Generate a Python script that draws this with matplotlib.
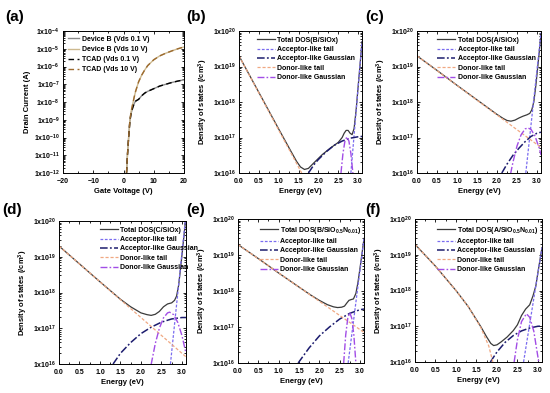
import numpy as np
import matplotlib
matplotlib.use("Agg")
import matplotlib.pyplot as plt
from matplotlib.ticker import FuncFormatter, LogLocator, MultipleLocator, NullFormatter

plt.rcParams['font.family'] = ['Liberation Sans', 'DejaVu Sans']
plt.rcParams['font.weight'] = 'bold'
plt.rcParams['mathtext.fontset'] = 'custom'
plt.rcParams['mathtext.rm'] = 'Liberation Sans:bold'
plt.rcParams['mathtext.bf'] = 'Liberation Sans:bold'
plt.rcParams['mathtext.it'] = 'Liberation Sans:bold'

# ---------------- Panel (a) data: transfer curves (log10 of drain current) -------------
vg_dev01 = [-20, -19.6, 0.8, 1.0, 1.3, 1.7, 2.1, 2.5, 3.0, 3.5, 4.0, 5, 6, 7, 8, 10, 12, 14, 16, 18, 20]
li_dev01 = [-11.5, -13, -13, -12.0, -11.0, -10.0, -9.1, -8.65, -8.35, -8.1, -7.95, -7.85, -7.65, -7.5, -7.4, -7.25, -7.1, -7.0, -6.9, -6.82, -6.75]
vg_dev10 = [-20, -19.6, 0.8, 1.0, 1.3, 1.7, 2.1, 2.5, 3.0, 3.5, 4.0, 5, 6, 7, 8, 10, 12, 14, 16, 18, 20]
li_dev10 = [-11.6, -13, -13, -12.0, -11.0, -10.0, -9.05, -8.55, -8.15, -7.75, -7.4, -6.86, -6.49, -6.2, -5.95, -5.62, -5.4, -5.25, -5.12, -5.0, -4.9]
vg_tcad01 = [0.8, 1.0, 1.3, 1.7, 2.1, 2.5, 3.0, 3.5, 4.0, 5, 6, 7, 8, 10, 12, 14, 16, 18, 20]
li_tcad01 = [-13, -12.0, -11.0, -10.0, -9.1, -8.65, -8.35, -8.1, -7.95, -7.85, -7.65, -7.5, -7.4, -7.25, -7.1, -7.0, -6.9, -6.82, -6.75]
vg_tcad10 = [0.8, 1.0, 1.3, 1.7, 2.1, 2.5, 3.0, 3.5, 4.0, 5, 6, 7, 8, 10, 12, 14, 16, 18, 20]
li_tcad10 = [-13, -12.0, -11.0, -10.0, -9.05, -8.55, -8.15, -7.75, -7.4, -6.86, -6.49, -6.2, -5.95, -5.62, -5.4, -5.25, -5.12, -5.0, -4.9]
labels_a = ['Device B (Vds 0.1 V)', 'Device B (Vds 10 V)', 'TCAD (Vds 0.1 V)', 'TCAD (Vds 10 V)']

# ---------------- DOS panels (log10 of density of states) ----------------
# (b) B/SiOx
b_tot_e = [0.0, 0.5, 1.0, 1.3, 1.45, 1.55, 1.65, 1.75, 1.9, 2.1, 2.3, 2.5, 2.6, 2.65, 2.7, 2.75, 2.8, 2.85, 2.9, 2.95, 3.0, 3.05, 3.1]
b_tot_v = [19.30, 18.27, 17.24, 16.63, 16.33, 16.17, 16.10, 16.13, 16.30, 16.52, 16.70, 16.86, 17.0, 17.12, 17.2, 17.2, 17.12, 17.08, 17.25, 17.75, 18.4, 19.04, 19.7]
b_at_e = [2.82, 3.1]
b_at_v = [16.0, 19.7]
b_ag_e = [1.75, 1.9, 2.0, 2.2, 2.4, 2.6, 2.8, 3.0, 3.1]
b_ag_v = [16.0, 16.25, 16.38, 16.6, 16.78, 16.9, 16.98, 17.02, 17.03]
b_dt_e = [0.0, 1.58]
b_dt_v = [19.3, 16.0]
b_dg_e = [2.57, 2.62, 2.67, 2.72, 2.77, 2.82, 2.87]
b_dg_v = [16.0, 16.55, 16.9, 17.02, 16.9, 16.55, 16.0]

# (c) A/SiOx
c_tot_e = [0.0, 0.5, 1.0, 1.5, 2.0, 2.15, 2.25, 2.35, 2.45, 2.55, 2.65, 2.75, 2.82, 2.87, 2.92, 2.97, 3.02, 3.06, 3.1]
c_tot_v = [19.30, 18.89, 18.47, 18.06, 17.65, 17.54, 17.48, 17.46, 17.49, 17.55, 17.60, 17.64, 17.68, 17.78, 18.0, 18.45, 19.0, 19.45, 19.9]
c_at_e = [2.72, 3.1]
c_at_v = [16.0, 19.95]
c_ag_e = [2.12, 2.25, 2.4, 2.55, 2.7, 2.85, 3.0, 3.1]
c_ag_v = [16.0, 16.25, 16.5, 16.7, 16.88, 17.03, 17.12, 17.15]
c_dt_e = [0.0, 3.1]
c_dt_v = [19.3, 16.72]
c_dg_e = [2.34, 2.4, 2.5, 2.6, 2.7, 2.77, 2.85, 2.95, 3.05, 3.1]
c_dg_v = [15.98, 16.31, 16.76, 17.07, 17.24, 17.27, 17.23, 17.04, 16.72, 16.51]

# (d) C/SiOx
d_tot_e = [0.0, 0.5, 1.0, 1.5, 1.75, 2.0, 2.15, 2.25, 2.35, 2.45, 2.55, 2.65, 2.75, 2.82, 2.87, 2.92, 2.97, 3.02, 3.07, 3.1]
d_tot_v = [19.3, 18.8, 18.3, 17.81, 17.6, 17.43, 17.38, 17.36, 17.39, 17.47, 17.6, 17.68, 17.71, 17.78, 17.9, 18.2, 18.7, 19.25, 19.8, 20.15]
d_at_e = [2.72, 3.1]
d_at_v = [16.0, 20.2]
d_ag_e = [1.32, 1.5, 1.75, 2.0, 2.25, 2.5, 2.75, 3.0, 3.1]
d_ag_v = [16.0, 16.3, 16.6, 16.85, 17.03, 17.17, 17.26, 17.3, 17.3]
d_dt_e = [0.0, 3.1]
d_dt_v = [19.3, 16.2]
d_dg_e = [2.25, 2.35, 2.45, 2.55, 2.65, 2.7, 2.8, 2.9, 3.0, 3.1]
d_dg_v = [15.99, 16.57, 17.0, 17.29, 17.43, 17.45, 17.38, 17.16, 16.8, 16.3]

# (e) B/SiO0.5N0.01
e_tot_e = [0.0, 0.5, 1.0, 1.5, 1.8, 2.0, 2.2, 2.35, 2.45, 2.55, 2.62, 2.68, 2.73, 2.78, 2.84, 2.9, 2.95, 3.0, 3.05, 3.1]
e_tot_v = [19.29, 18.9, 18.5, 18.11, 17.88, 17.74, 17.62, 17.56, 17.54, 17.55, 17.58, 17.67, 17.74, 17.76, 17.78, 17.93, 18.23, 18.62, 19.03, 19.46]
e_at_e = [2.71, 3.1]
e_at_v = [16.0, 19.45]
e_ag_e = [1.48, 1.75, 2.0, 2.25, 2.5, 2.75, 3.0, 3.1]
e_ag_v = [16.0, 16.42, 16.75, 17.0, 17.22, 17.38, 17.48, 17.5]
e_dt_e = [0.0, 3.1]
e_dt_v = [19.29, 16.85]
e_dg_e = [2.6, 2.65, 2.7, 2.75, 2.8, 2.85, 2.9]
e_dg_v = [16.0, 16.78, 17.24, 17.4, 17.24, 16.78, 16.0]

# (f) A/SiO0.5N0.01
f_tot_e = [0.0, 0.5, 1.0, 1.3, 1.6, 1.75, 1.85, 1.92, 2.0, 2.1, 2.25, 2.4, 2.5, 2.6, 2.7, 2.8, 2.88, 2.95, 3.0, 3.05, 3.1]
f_tot_v = [19.29, 18.68, 18.0, 17.55, 17.0, 16.7, 16.52, 16.46, 16.48, 16.56, 16.7, 16.88, 17.04, 17.3, 17.48, 17.6, 17.85, 18.13, 18.5, 18.85, 19.2]
f_at_e = [2.65, 3.1]
f_at_v = [16.0, 19.2]
f_ag_e = [1.84, 2.0, 2.2, 2.4, 2.6, 2.8, 3.0, 3.1]
f_ag_v = [16.0, 16.28, 16.55, 16.74, 16.87, 16.95, 17.0, 17.0]
f_dt_e = [0.0, 0.5, 1.0, 1.3, 1.6, 1.8, 1.9]
f_dt_v = [19.29, 18.68, 18.0, 17.55, 16.98, 16.45, 16.0]
f_dg_e = [2.42, 2.5, 2.6, 2.72, 2.8, 2.9, 3.02]
f_dg_v = [16.0, 16.62, 17.13, 17.35, 17.25, 16.86, 16.0]

dos_names = ['B/SiOx', 'A/SiOx', 'C/SiOx', r'B/SiO$_{\mathbf{0.5}}$N$_{\mathbf{0.01}}$', r'A/SiO$_{\mathbf{0.5}}$N$_{\mathbf{0.01}}$']
comp_labels = ['Acceptor-like tail', 'Acceptor-like Gaussian', 'Donor-like tail', 'Donor-like Gaussian']

# ---------------- Figure ----------------
W, H = 550, 393
fig = plt.figure(figsize=(W / 100, H / 100), dpi=100)

def add_ax(x0, x1, y0, y1):
    return fig.add_axes([x0 / W, 1 - y1 / H, (x1 - x0) / W, (y1 - y0) / H])

def sci_fmt(v, pos):
    if v <= 0:
        return ''
    e = int(round(np.log10(v)))
    return r'$\mathbf{1x10^{%d}}$' % e

def style(ax):
    ax.tick_params(which='both', direction='in', top=True, right=True, width=0.6, labelsize=5)
    ax.tick_params(axis='x', pad=3.5)
    ax.tick_params(axis='y', pad=2.5)
    ax.tick_params(which='major', length=2.5)
    ax.tick_params(which='minor', length=1.5)
    for s in ax.spines.values():
        s.set_linewidth(0.7)
    for t in ax.get_xticklabels() + ax.get_yticklabels():
        t.set_fontweight('bold')

# Panel (a)
axa = add_ax(63, 184, 31, 173)
axa.plot(vg_dev01, 10.0 ** np.array(li_dev01), color='#8a8a8a', lw=1.0, label=labels_a[0])
axa.plot(vg_dev10, 10.0 ** np.array(li_dev10), color='#cdb98f', lw=1.0, label=labels_a[1])
axa.plot(vg_tcad01, 10.0 ** np.array(li_tcad01), color='black', lw=1.0, ls=(0, (4, 2.5)), label=labels_a[2])
axa.plot(vg_tcad10, 10.0 ** np.array(li_tcad10), color='#9c6a2e', lw=1.0, ls=(0, (4, 2.5)), label=labels_a[3])
axa.set_yscale('log')
axa.set_xlim(-20, 20)
axa.set_ylim(1e-12, 1e-4)
axa.yaxis.set_major_locator(LogLocator(base=10, numticks=20))
axa.yaxis.set_minor_locator(LogLocator(base=10, subs=np.arange(2, 10), numticks=20))
axa.yaxis.set_major_formatter(FuncFormatter(sci_fmt))
axa.yaxis.set_minor_formatter(NullFormatter())
axa.xaxis.set_major_locator(MultipleLocator(10))
axa.xaxis.set_minor_locator(MultipleLocator(5))
axa.set_xlabel('Gate Voltage (V)', fontsize=5.5, fontweight='bold', labelpad=2)
axa.set_ylabel('Drain Current (A)', fontsize=5.5, fontweight='bold', labelpad=2)
style(axa)
axa.legend(loc='upper left', bbox_to_anchor=(0.0, 1.0), frameon=False,
           handlelength=1.6, handletextpad=0.4, labelspacing=0.45, borderaxespad=0.3,
           prop={'weight': 'bold', 'size': 5})

dos_sets = [
    (b_tot_e, b_tot_v, b_at_e, b_at_v, b_ag_e, b_ag_v, b_dt_e, b_dt_v, b_dg_e, b_dg_v),
    (c_tot_e, c_tot_v, c_at_e, c_at_v, c_ag_e, c_ag_v, c_dt_e, c_dt_v, c_dg_e, c_dg_v),
    (d_tot_e, d_tot_v, d_at_e, d_at_v, d_ag_e, d_ag_v, d_dt_e, d_dt_v, d_dg_e, d_dg_v),
    (e_tot_e, e_tot_v, e_at_e, e_at_v, e_ag_e, e_ag_v, e_dt_e, e_dt_v, e_dg_e, e_dg_v),
    (f_tot_e, f_tot_v, f_at_e, f_at_v, f_ag_e, f_ag_v, f_dt_e, f_dt_v, f_dg_e, f_dg_v),
]
boxes = [(239, 362, 31, 173), (417, 541, 31, 173), (59, 186, 221, 364), (238, 364, 219, 363), (415, 542, 219, 362)]
leg_x = [0.10, 0.12, 0.28, 0.13, 0.13]

styles = [
    dict(color='#3a3a3a', lw=0.9, ls='-'),
    dict(color='#7a6cf0', lw=0.9, ls=(0, (2.2, 1.3))),
    dict(color='#1c1c6e', lw=1.1, ls=(0, (5, 1.5, 1.2, 1.5))),
    dict(color='#f0a882', lw=0.9, ls=(0, (2.5, 1.5))),
    dict(color='#a24de6', lw=1.0, ls=(0, (5, 1.5, 1.2, 1.5))),
]

for i, (data, box, name) in enumerate(zip(dos_sets, boxes, dos_names)):
    ax = add_ax(*box)
    te, tv, ate, atv, age, agv, dte, dtv, dge, dgv = data
    ax.plot(te, 10.0 ** np.array(tv), label='Total DOS(%s)' % name, **styles[0])
    ax.plot(ate, 10.0 ** np.array(atv), label=comp_labels[0], **styles[1])
    ax.plot(age, 10.0 ** np.array(agv), label=comp_labels[1], **styles[2])
    ax.plot(dte, 10.0 ** np.array(dtv), label=comp_labels[2], **styles[3])
    ax.plot(dge, 10.0 ** np.array(dgv), label=comp_labels[3], **styles[4])
    ax.set_yscale('log')
    ax.set_xlim(0, 3.1)
    ax.set_ylim(1e16, 1e20)
    ax.yaxis.set_major_locator(LogLocator(base=10, numticks=10))
    ax.yaxis.set_minor_locator(LogLocator(base=10, subs=np.arange(2, 10), numticks=10))
    ax.yaxis.set_major_formatter(FuncFormatter(sci_fmt))
    ax.yaxis.set_minor_formatter(NullFormatter())
    ax.xaxis.set_major_locator(MultipleLocator(0.5))
    ax.xaxis.set_minor_locator(MultipleLocator(0.25))
    ax.xaxis.set_major_formatter(FuncFormatter(lambda v, p: '%.1f' % v))
    ax.set_xlabel('Energy (eV)', fontsize=5.5, fontweight='bold', labelpad=2)
    ax.set_ylabel(r'Density of states (/cm$^{\mathbf{3}}$)', fontsize=5.5, fontweight='bold', labelpad=2)
    style(ax)
    ax.legend(loc='upper left', bbox_to_anchor=(leg_x[i], 1.0), frameon=False,
              handlelength=2.6, handletextpad=0.3, labelspacing=0.35, borderaxespad=0.4,
              prop={'weight': 'bold', 'size': 5})

# Panel letters
for txt, x, y in [('(a)', 5, 17), ('(b)', 186, 17), ('(c)', 365, 17),
                  ('(d)', 2, 210), ('(e)', 186, 210), ('(f)', 365, 210)]:
    fig.text(x / W, 1 - y / H, txt, fontsize=11, fontweight='bold', ha='left', va='center')

fig.savefig('out.png', dpi=100)
